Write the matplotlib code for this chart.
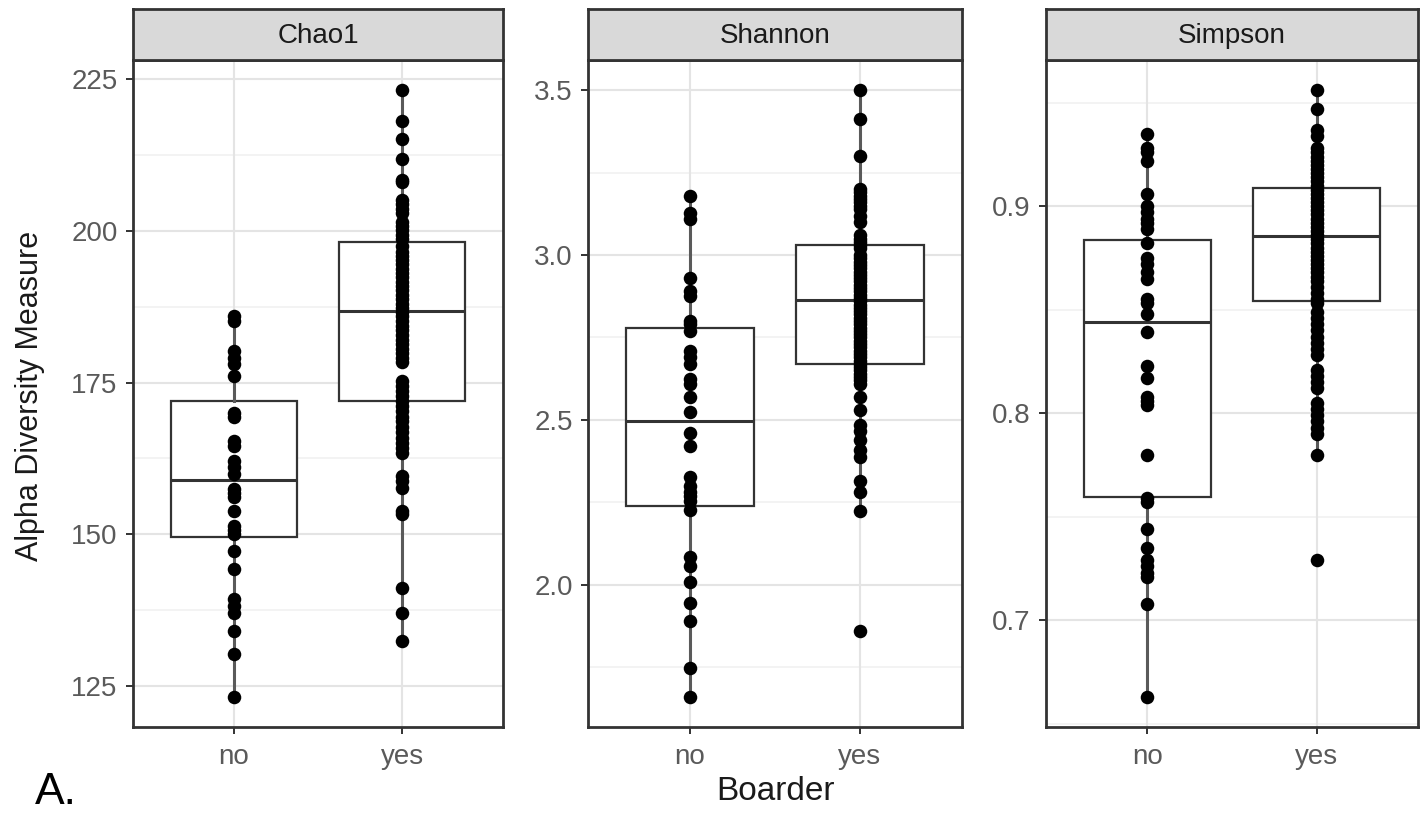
import matplotlib
matplotlib.use("Agg")
import matplotlib.pyplot as plt
import numpy as np

plt.rcParams['font.family'] = ['Liberation Sans', 'DejaVu Sans']

# ---------------- data ----------------
groups = ["no", "yes"]
panels = ["Chao1", "Shannon", "Simpson"]

chao1_no = [186.0, 185.2, 180.2, 179.1, 178.0, 176.1, 170.0, 169.3, 165.4, 164.6,
            162.1, 161.1, 160.0, 157.5, 156.8, 156.1, 153.9, 151.4, 150.7, 150.0,
            147.2, 144.3, 139.3, 138.2, 137.0, 134.1, 130.2, 123.2]
chao1_yes = [223.2, 218.2, 215.2, 211.9, 208.4, 208.0, 205.1, 204.4, 203.7, 202.9,
             201.5, 200.8, 200.1, 199.3, 198.6, 197.6, 196.5, 195.9, 195.2, 194.6,
             193.8, 193.1, 192.4, 191.6, 190.9, 190.2, 189.5, 188.8, 188.0, 187.3,
             186.6, 185.9, 185.1, 184.4, 183.6, 182.9, 182.1, 181.3, 180.6, 179.9,
             179.1, 178.4, 175.2, 174.4, 173.6, 172.8, 171.9, 171.1, 170.3, 169.4,
             168.6, 167.7, 166.9, 165.9, 165.1, 164.2, 163.4, 159.6, 158.8, 157.6,
             153.9, 153.4, 141.1, 137.0, 132.4]

shannon_no = [3.18, 3.127, 3.11, 2.93, 2.89, 2.876, 2.80, 2.79, 2.77, 2.71, 2.69,
              2.67, 2.624, 2.61, 2.57, 2.525, 2.459, 2.42, 2.326, 2.30, 2.28, 2.27,
              2.254, 2.227, 2.084, 2.058, 2.009, 1.943, 1.89, 1.748, 1.66]
shannon_yes = [3.50, 3.414, 3.30, 3.20, 3.19, 3.18, 3.17, 3.16, 3.15, 3.14, 3.12,
               3.10, 3.06, 3.05, 3.04, 3.03, 3.02, 3.00, 2.99, 2.98, 2.97, 2.96,
               2.95, 2.94, 2.93, 2.92, 2.91, 2.90, 2.89, 2.88, 2.87, 2.86, 2.85,
               2.84, 2.83, 2.82, 2.81, 2.80, 2.79, 2.78, 2.77, 2.76, 2.75, 2.74,
               2.73, 2.72, 2.71, 2.70, 2.69, 2.68, 2.67, 2.66, 2.65, 2.64, 2.63,
               2.62, 2.61, 2.57, 2.53, 2.485, 2.465, 2.44, 2.41, 2.386, 2.313,
               2.28, 2.223, 1.86]

simpson_no = [0.935, 0.928, 0.926, 0.922, 0.906, 0.900, 0.897, 0.894, 0.892, 0.889,
              0.882, 0.875, 0.872, 0.868, 0.865, 0.855, 0.853, 0.848, 0.839, 0.823,
              0.817, 0.808, 0.806, 0.804, 0.780, 0.759, 0.757, 0.744, 0.735, 0.729,
              0.726, 0.723, 0.721, 0.708, 0.663]
simpson_yes = [0.956, 0.947, 0.937, 0.934, 0.928, 0.926, 0.924, 0.922, 0.920, 0.918,
               0.916, 0.914, 0.912, 0.910, 0.908, 0.906, 0.904, 0.902, 0.900, 0.898,
               0.896, 0.894, 0.892, 0.890, 0.888, 0.886, 0.884, 0.882, 0.880, 0.878,
               0.876, 0.874, 0.872, 0.870, 0.868, 0.866, 0.864, 0.861, 0.858, 0.855,
               0.853, 0.849, 0.846, 0.843, 0.840, 0.837, 0.834, 0.831, 0.828, 0.821,
               0.818, 0.815, 0.812, 0.805, 0.802, 0.799, 0.796, 0.793, 0.790, 0.780,
               0.729]

# box statistics: [no, yes]
chao1_q1 = [149.5, 172.0]; chao1_med = [158.9, 186.8]; chao1_q3 = [171.9, 198.2]
chao1_lo = [123.2, 132.4]; chao1_hi = [186.0, 223.2]
shannon_q1 = [2.24, 2.668]; shannon_med = [2.496, 2.865]; shannon_q3 = [2.779, 3.032]
shannon_lo = [1.66, 2.223]; shannon_hi = [3.18, 3.50]
simpson_q1 = [0.7595, 0.854]; simpson_med = [0.844, 0.8855]; simpson_q3 = [0.8838, 0.909]
simpson_lo = [0.663, 0.780]; simpson_hi = [0.935, 0.956]

chao1_ticks = [125, 150, 175, 200, 225]
shannon_ticks = [2.0, 2.5, 3.0, 3.5]
simpson_ticks = [0.7, 0.8, 0.9]
chao1_labels = ["125", "150", "175", "200", "225"]
shannon_labels = ["2.0", "2.5", "3.0", "3.5"]
simpson_labels = ["0.7", "0.8", "0.9"]

panel_data = [
    (chao1_no, chao1_yes, chao1_q1, chao1_med, chao1_q3, chao1_lo, chao1_hi, chao1_ticks, chao1_labels),
    (shannon_no, shannon_yes, shannon_q1, shannon_med, shannon_q3, shannon_lo, shannon_hi, shannon_ticks, shannon_labels),
    (simpson_no, simpson_yes, simpson_q1, simpson_med, simpson_q3, simpson_lo, simpson_hi, simpson_ticks, simpson_labels),
]

# ---------------- layout ----------------
W, H = 1427, 814
fig = plt.figure(figsize=(W / 100, H / 100), dpi=100)

panel_px = [(133, 503), (588, 962), (1046, 1418)]
plot_top, plot_bot = 60, 727
strip_top = 9

border_col = "#333333"
tick_col = "#5A5A5A"

for (x0, x1), name, pdat in zip(panel_px, panels, panel_data):
    no_v, yes_v, q1, med, q3, lo, hi, ticks, tlabels = pdat
    ax = fig.add_axes([x0 / W, (H - plot_bot) / H, (x1 - x0) / W, (plot_bot - plot_top) / H])
    sax = fig.add_axes([x0 / W, (H - plot_top) / H, (x1 - x0) / W, (plot_top - strip_top) / H])

    # y limits with ggplot-like 5% expansion
    allv = np.array(no_v + yes_v)
    rng = allv.max() - allv.min()
    ymin, ymax = allv.min() - 0.05 * rng, allv.max() + 0.05 * rng
    ax.set_ylim(ymin, ymax)
    ax.set_xlim(0.4, 2.6)

    # grid
    ax.set_axisbelow(True)
    step = ticks[1] - ticks[0]
    minors = [t + step / 2 for t in [ticks[0] - step] + ticks]
    minors = [m for m in minors if ymin < m < ymax]
    for m in minors:
        ax.axhline(m, color="#F0F0F0", lw=1.1, zorder=0)
    for t in ticks:
        ax.axhline(t, color="#E4E4E4", lw=1.5, zorder=0)
    for xp in [1, 2]:
        ax.axvline(xp, color="#E4E4E4", lw=1.5, zorder=0)

    stats = []
    for i in range(2):
        stats.append(dict(q1=q1[i], med=med[i], q3=q3[i], whislo=lo[i], whishi=hi[i], fliers=[]))
    ax.bxp(stats, positions=[1, 2], widths=0.75, showfliers=False, showcaps=False,
           patch_artist=True,
           boxprops=dict(facecolor="white", edgecolor=border_col, linewidth=1.6),
           medianprops=dict(color=border_col, linewidth=2.2),
           whiskerprops=dict(color="#5A5A5A", linewidth=2.2),
           manage_ticks=False)

    for xp, vals in zip([1, 2], [no_v, yes_v]):
        ax.scatter(np.full(len(vals), xp), vals, s=95, color="black", zorder=5,
                   linewidths=0)

    ax.set_yticks(ticks)
    ax.set_yticklabels(tlabels)
    ax.set_xticks([1, 2])
    ax.set_xticklabels(groups)
    ax.tick_params(axis="both", colors=border_col, labelcolor=tick_col, labelsize=20,
                   length=5, width=1.4)
    ax.tick_params(axis="x", pad=7)
    ax.tick_params(axis="y", pad=6)
    for sp in ax.spines.values():
        sp.set_color(border_col)
        sp.set_linewidth(2.0)

    # strip
    sax.set_facecolor("#D9D9D9")
    sax.set_xticks([]); sax.set_yticks([])
    for sp in sax.spines.values():
        sp.set_color(border_col)
        sp.set_linewidth(2.0)
    sax.text(0.5, 0.47, name, ha="center", va="center", fontsize=20, color="#1A1A1A",
             transform=sax.transAxes)

fig.text(30 / W, 1 - 396 / H, "Alpha Diversity Measure", rotation=90, ha="center",
         va="center", fontsize=22, color="#1A1A1A")
fig.text(775 / W, 1 - 792 / H, "Boarder", ha="center", va="center", fontsize=24,
         color="#1A1A1A")
fig.text(35 / W, 1 - 804 / H, "A.", ha="left", va="baseline", fontsize=32,
         color="black")

fig.savefig("out.png", dpi=100)
